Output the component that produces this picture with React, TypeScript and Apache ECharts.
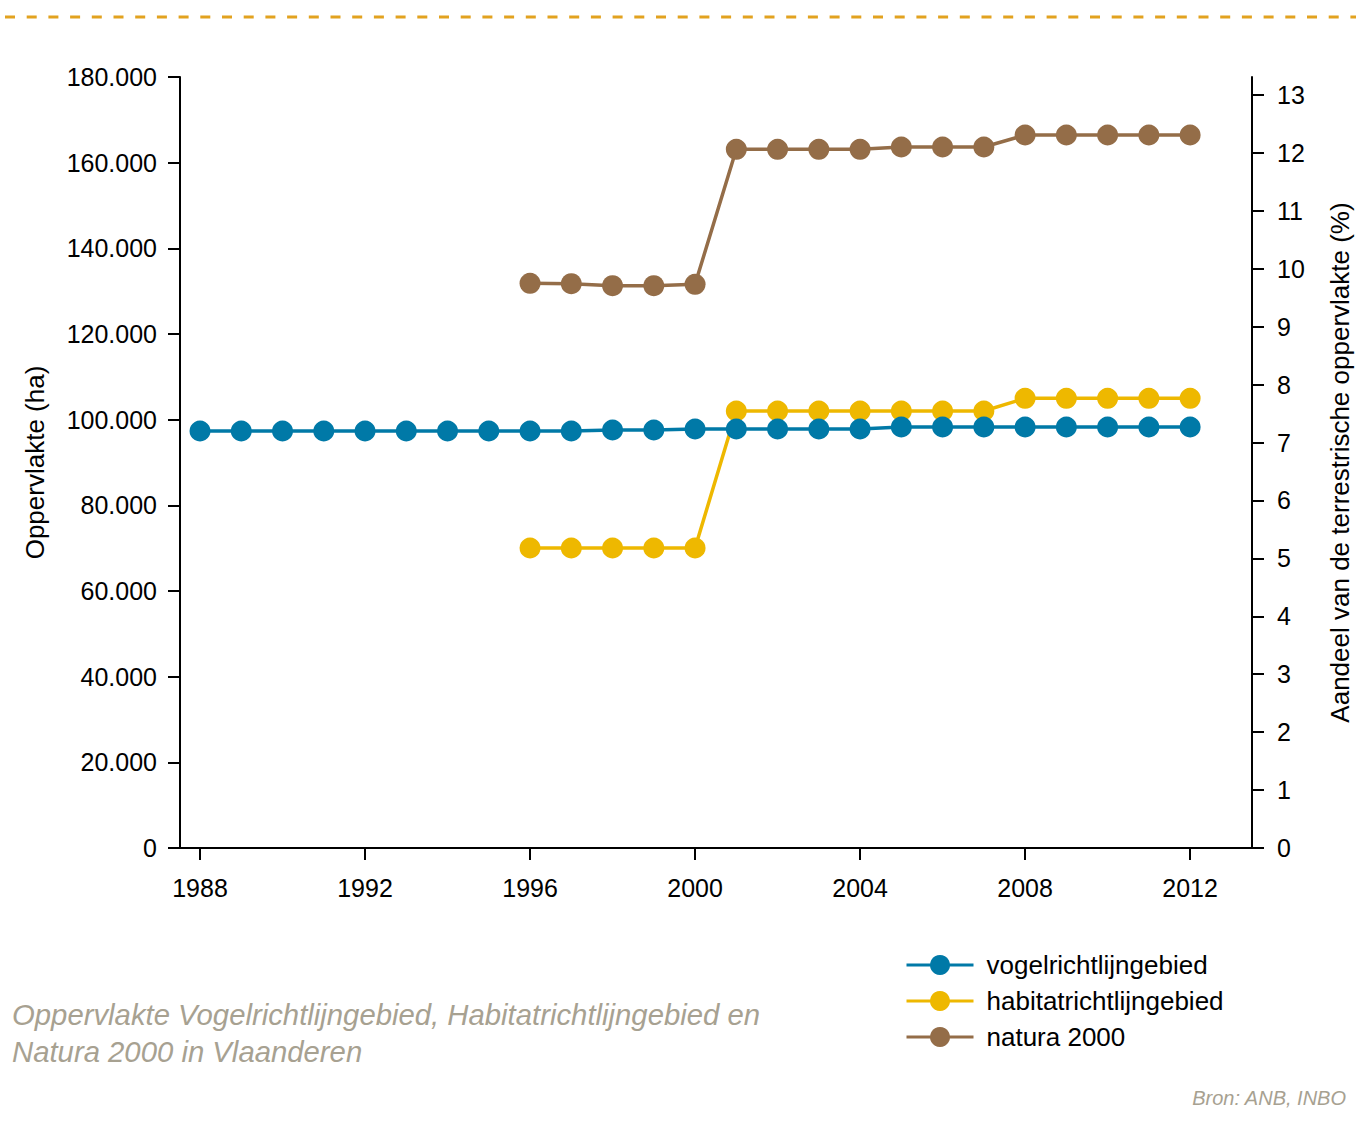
import React, { useEffect, useRef } from "react";
import * as echarts from "echarts";

const years = [1988, 1989, 1990, 1991, 1992, 1993, 1994, 1995, 1996, 1997, 1998, 1999, 2000, 2001, 2002, 2003, 2004, 2005, 2006, 2007, 2008, 2009, 2010, 2011, 2012];
const lateYears = [1996, 1997, 1998, 1999, 2000, 2001, 2002, 2003, 2004, 2005, 2006, 2007, 2008, 2009, 2010, 2011, 2012];

const vogelValues = [97350, 97350, 97350, 97350, 97350, 97350, 97350, 97350, 97350, 97350, 97590, 97590, 97820, 97820, 97820, 97820, 97820, 98290, 98290, 98290, 98290, 98290, 98290, 98290, 98290];
const habitatValues = [70040, 70040, 70040, 70040, 70040, 102020, 102020, 102020, 102020, 102020, 102020, 102020, 104990, 104990, 104990, 104990, 104990];
const naturaValues = [131840, 131760, 131280, 131280, 131600, 163120, 163120, 163120, 163120, 163660, 163660, 163660, 166460, 166460, 166460, 166460, 166460];

const xTickYears = [1988, 1992, 1996, 2000, 2004, 2008, 2012];
const rightTicks = [0, 1, 2, 3, 4, 5, 6, 7, 8, 9, 10, 11, 12, 13];

const seriesNames = ["vogelrichtlijngebied", "habitatrichtlijngebied", "natura 2000"];
const colors = ["#0079a7", "#eeb800", "#946d48"];

const titleLine1 = "Oppervlakte Vogelrichtlijngebied, Habitatrichtlijngebied en";
const titleLine2 = "Natura 2000 in Vlaanderen";
const sourceText = "Bron: ANB, INBO";
const leftAxisName = "Oppervlakte (ha)";
const rightAxisName = "Aandeel van de terrestrische oppervlakte (%)";

const FONT = "'Liberation Sans', Arial, Helvetica, sans-serif";
const NARROW = "'Liberation Sans Narrow', 'Liberation Sans', Arial, sans-serif";

function fmtThousands(v: number): string {
  if (v === 0) return "0";
  const s = Math.round(v).toString();
  return s.replace(/\B(?=(\d{3})+(?!\d))/g, ".");
}

export default function App() {
  const ref = useRef<HTMLDivElement>(null);
  useEffect(() => {
    document.body.style.margin = "0";
    if (!ref.current) return;
    const chart = echarts.init(ref.current, undefined, { renderer: "svg" });
    const pair = (xs: number[], vs: number[]) => xs.map((x, i) => [x, vs[i]]);
    const lineSeries = (idx: number, data: number[][], z: number) => ({
      name: seriesNames[idx],
      type: "line",
      data,
      z,
      symbol: "circle",
      symbolSize: 21,
      showSymbol: true,
      silent: true,
      lineStyle: { color: colors[idx], width: 3.5 },
      itemStyle: { color: colors[idx] },
      emphasis: { disabled: true },
    });
    chart.setOption({
      animation: false,
      textStyle: { fontFamily: FONT, color: "#000" },
      grid: { left: 180, right: 104, top: 77, bottom: 294, containLabel: false, outerBoundsMode: "none" },
      legend: {
        orient: "vertical",
        left: 900,
        top: 947,
        itemWidth: 67,
        itemHeight: 25,
        itemGap: 10,
        data: seriesNames,
        lineStyle: { width: 3 },
        textStyle: { fontSize: 26, color: "#000", fontFamily: FONT, padding: [0, 0, 0, 8] },
      },
      xAxis: {
        type: "value",
        min: 1987.515,
        max: 2013.5,
        splitLine: { show: false },
        axisLine: { show: true, onZero: false, lineStyle: { color: "#000", width: 2 } },
        axisTick: { show: true, length: 12, lineStyle: { color: "#000", width: 2 }, customValues: xTickYears },
        axisLabel: { fontSize: 25, color: "#000", margin: 27, customValues: xTickYears, formatter: (v: number) => String(v) },
      },
      yAxis: [
        {
          type: "value",
          min: 0,
          max: 180000,
          interval: 20000,
          position: "left",
          name: leftAxisName,
          nameLocation: "middle",
          nameGap: 132,
          nameTextStyle: { fontSize: 26, color: "#000", fontFamily: FONT },
          splitLine: { show: false },
          axisLine: { show: true, lineStyle: { color: "#000", width: 2 } },
          axisTick: { show: true, length: 12, lineStyle: { color: "#000", width: 2 } },
          axisLabel: { fontSize: 25, color: "#000", margin: 23, formatter: (v: number) => fmtThousands(v) },
        },
        {
          type: "value",
          min: 0,
          max: 13.31,
          interval: 1,
          position: "right",
          name: rightAxisName,
          nameLocation: "middle",
          nameGap: 75,
          nameTextStyle: { fontSize: 26, color: "#000", fontFamily: FONT },
          splitLine: { show: false },
          axisLine: { show: true, lineStyle: { color: "#000", width: 2 } },
          axisTick: { show: true, length: 12, lineStyle: { color: "#000", width: 2 }, customValues: rightTicks },
          axisLabel: { fontSize: 25, color: "#000", margin: 25, customValues: rightTicks, formatter: (v: number) => String(v) },
        },
      ],
      series: [
        lineSeries(0, pair(years, vogelValues), 4),
        lineSeries(1, pair(lateYears, habitatValues), 3),
        lineSeries(2, pair(lateYears, naturaValues), 2),
      ],
      graphic: [
        {
          type: "line",
          silent: true,
          shape: { x1: 5, y1: 17, x2: 1356, y2: 17 },
          style: { stroke: "#e2a21f", lineWidth: 3, lineDash: [10, 11.7] },
        },
        {
          type: "text",
          silent: true,
          x: 12,
          y: 1014,
          style: { text: titleLine1, font: `italic 29.3px ${NARROW}`, fill: "#a7a191", textAlign: "left", textVerticalAlign: "middle" },
        },
        {
          type: "text",
          silent: true,
          x: 12,
          y: 1051,
          style: { text: titleLine2, font: `italic 29.3px ${NARROW}`, fill: "#a7a191", textAlign: "left", textVerticalAlign: "middle" },
        },
        {
          type: "text",
          silent: true,
          x: 1346,
          y: 1098,
          style: { text: sourceText, font: `italic 20px ${FONT}`, fill: "#a7a191", textAlign: "right", textVerticalAlign: "middle" },
        },
      ],
    });
    return () => chart.dispose();
  }, []);
  return <div ref={ref} style={{ width: 1356, height: 1142 }} />;
}
